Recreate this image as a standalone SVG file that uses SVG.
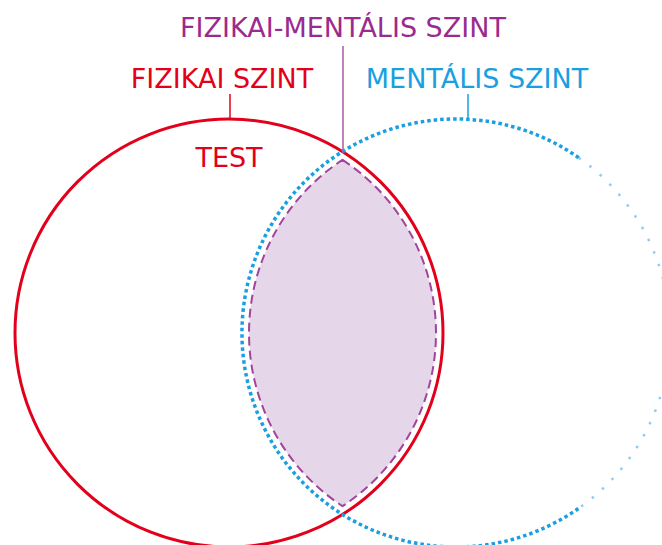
<svg xmlns="http://www.w3.org/2000/svg" width="662" height="545" viewBox="0 0 662 545">
  <style>
    .lbl { font-family: "DejaVu Sans", "Liberation Sans", sans-serif; font-size: 27px; text-anchor: middle; }
    .red { fill: #e3001b; }
    .blue { fill: #1a9fe0; }
    .purple { fill: #9b2a8e; }
    .redline { fill: none; stroke: #e3001b; stroke-width: 3; }
    .dots { fill: none; stroke: #1a9fe0; stroke-width: 3.5; stroke-dasharray: 3.5 3; }
    .faint { fill: none; stroke: #8ccdf0; stroke-width: 2.5; stroke-dasharray: 2.5 11; }
    .lens { fill: #e5d6e9; stroke: #a2449b; stroke-width: 2; stroke-dasharray: 9 5; }
  </style>
  <rect width="662" height="545" fill="#ffffff"/>
  <g id="overlap">
    <path class="lens" d="M342.5,159.9 A207,207 0 0,1 342.5,506.1 A207,207 0 0,1 342.5,159.9 Z"/>
  </g>
  <g id="physical">
    <circle class="redline" cx="229" cy="333" r="214"/>
    <text class="lbl red" x="222" y="88">FIZIKAI SZINT</text>
    <text class="lbl red" x="229" y="167">TEST</text>
  </g>
  <g id="mental">
    <path class="dots" d="M578.7,157.7 A214,214 0 1,0 578.7,508.3"/>
    <path class="faint" d="M578.7,157.7 A214,214 0 0,1 578.7,508.3"/>
    <text class="lbl blue" x="477" y="88">MENTÁLIS SZINT</text>
  </g>
  <g id="overlap-label">
    <text class="lbl purple" x="343" y="37">FIZIKAI-MENTÁLIS SZINT</text>
  </g>
  <g id="connectors">
    <line x1="230" y1="94" x2="230" y2="118" stroke="#e3001b" stroke-width="1.5"/>
    <line x1="468" y1="94" x2="468" y2="119" stroke="#1a9fe0" stroke-width="1.5"/>
    <line x1="343" y1="46" x2="343" y2="153" stroke="#a85aa6" stroke-width="1.5"/>
  </g>
</svg>
